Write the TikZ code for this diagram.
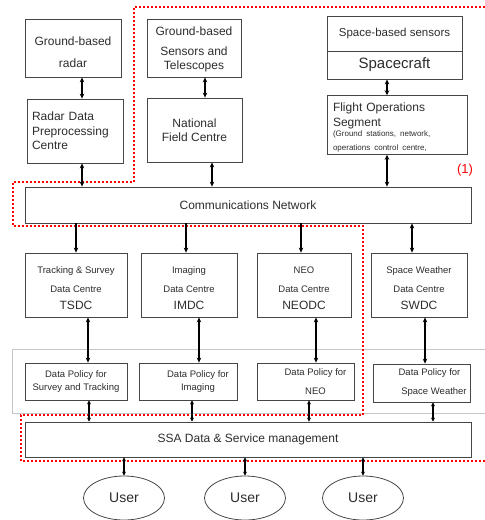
\documentclass[tikz,border=0pt]{standalone}
\usepackage{fontspec}
\setmainfont{Liberation Sans}
\usetikzlibrary{arrows.meta, shapes.geometric}
\definecolor{boxgray}{RGB}{70,70,70}
\definecolor{txtgray}{RGB}{45,45,45}

\begin{document}
\begin{tikzpicture}[x=1pt, y=-1pt,
  every node/.style={font=\fontsize{12}{14.5}\selectfont, text=txtgray},
  box/.style={draw=boxgray, line width=0.8pt, align=center, inner sep=2pt},
  smalltext/.style={font=\fontsize{9.5}{11}\selectfont},
  user/.style={ellipse, draw=boxgray, line width=0.8pt, minimum width=81, minimum height=44, font=\fontsize{14}{16}\selectfont},
  link/.style={{Stealth[length=5pt,width=4.5pt]}-{Stealth[length=5pt,width=4.5pt]}, line width=1.6pt},
  oneway/.style={-{Stealth[length=5pt,width=4.5pt]}, line width=1.6pt},
  thinlink/.style={{Stealth[length=4pt,width=4pt]}-{Stealth[length=4pt,width=4pt]}, line width=1.1pt},
  redline/.style={red, line width=2pt, dash pattern=on 2pt off 2pt}]
\useasboundingbox (0,0) rectangle (485,520);

% outlines
\draw[gray!45, line width=0.8pt] (485,349) -- (12,349) -- (12,413) -- (485,413);
\draw[redline] (485,7) -- (134,7) -- (134,182) -- (13,182) -- (13,226) -- (363,226)
  -- (363,415) -- (21,415) -- (21,461) -- (485,461);

% sensors
\node[box, minimum width=96, minimum height=58] (radar) at (73,48) {\rule{0pt}{17pt}Ground-based\\[7pt]radar};
\node[box, align=left, text width=86, minimum width=96, minimum height=64] (rdpc) at (75,131) {Radar Data\\Preprocessing\\Centre};
\node[box, minimum width=94, minimum height=58] (gbs) at (194,48) {\rule{0pt}{12pt}Ground-based\\[5pt]Sensors and\\Telescopes};
\node[box, minimum width=95, minimum height=64] (nfc) at (194.5,130) {National\\Field Centre};
\node[box, minimum width=135, minimum height=35, font=\fontsize{11.5}{14}\selectfont] (sbs) at (394.5,33.5) {Space-based sensors};
\node[box, minimum width=135, minimum height=28, font=\fontsize{15}{17}\selectfont] (craft) at (394.5,65) {Spacecraft};
\node[box, align=left, text width=128, minimum width=140, minimum height=56] (fos) at (397,125)
  {\rule{0pt}{14pt}Flight Operations\\Segment\par\fontsize{8}{10}\selectfont(Ground stations, network,\\operations control centre,};
\node[red, font=\fontsize{13}{15}\selectfont] (mark1) at (465,170) {(1)};

% network
\node[box, minimum width=446, minimum height=36] (comm) at (248,205) {Communications Network};

% data centres
\node[box, smalltext, minimum width=102, minimum height=64] (tsdc) at (76,285) {\rule{0pt}{13pt}Tracking \& Survey\\[8pt]Data Centre\\[6pt]{\fontsize{12}{12}\selectfont TSDC}};
\node[box, smalltext, minimum width=96, minimum height=64] (imdc) at (189,285) {\rule{0pt}{13pt}Imaging\\[8pt]Data Centre\\[6pt]{\fontsize{12}{12}\selectfont IMDC}};
\node[box, smalltext, minimum width=94, minimum height=64] (neodc) at (304,285) {\rule{0pt}{13pt}NEO\\[8pt]Data Centre\\[6pt]{\fontsize{12}{12}\selectfont NEODC}};
\node[box, smalltext, minimum width=96, minimum height=64] (swdc) at (419,285) {\rule{0pt}{13pt}Space Weather\\[8pt]Data Centre\\[6pt]{\fontsize{12}{12}\selectfont SWDC}};

% data policies
\node[box, smalltext, minimum width=102, minimum height=37] (dpst) at (76,381.5) {Data Policy for\\[2pt]Survey and Tracking};
\node[box, smalltext, minimum width=98, minimum height=37] (dpim) at (188,381.5) {\hspace*{20pt}Data Policy for\\[2pt]\hspace*{20pt}Imaging};
\node[box, smalltext, minimum width=97, minimum height=37] (dpneo) at (305.5,381.5) {\hspace*{20pt}Data Policy for\\[8pt]\hspace*{20pt}NEO};
\node[box, smalltext, minimum width=97, minimum height=38] (dpsw) at (421.5,383) {\hspace*{16pt}Data Policy for\\[8pt]\hspace*{25pt}Space Weather};

\node[box, minimum width=446, minimum height=35] (ssa) at (248,439.5) {SSA Data \& Service management};

\foreach \i/\x in {1/124, 2/245, 3/363}
  \node[user] (user\i) at (\x,498) {User};

% links
\draw[link] ([xshift=9]radar.south) -- ([xshift=9]radar.south |- rdpc.north);
\draw[link] ([xshift=7]rdpc.south) -- ([xshift=7]rdpc.south |- comm.north);
\draw[link] ([xshift=11]gbs.south) -- ([xshift=11]gbs.south |- nfc.north);
\draw[link] ([xshift=17.5]nfc.south) -- ([xshift=17.5]nfc.south |- comm.north);
\draw[link] ([xshift=-7.5]craft.south) -- ([xshift=-7.5]craft.south |- fos.north);
\draw[link] ([xshift=-10]fos.south) -- ([xshift=-10]fos.south |- comm.north);

\draw[oneway] (tsdc.north |- comm.south) -- (tsdc.north);
\draw[oneway] ([xshift=-3]imdc.north |- comm.south) -- ([xshift=-3]imdc.north);
\draw[oneway] ([xshift=-3]neodc.north |- comm.south) -- ([xshift=-3]neodc.north);
\draw[link] ([xshift=-7]swdc.north |- comm.south) -- ([xshift=-7]swdc.north);

\draw[link] ([xshift=12]tsdc.south) -- ([xshift=12]tsdc.south |- dpst.north);
\draw[link] ([xshift=10]imdc.south) -- ([xshift=10]imdc.south |- dpim.north);
\draw[link] ([xshift=12]neodc.south) -- ([xshift=12]neodc.south |- dpneo.north);
\draw[link] ([xshift=6]swdc.south) -- ([xshift=6]swdc.south |- dpsw.north);

\draw[thinlink] ([xshift=13]dpst.south) -- ([xshift=13]dpst.south |- ssa.north);
\draw[thinlink] ([xshift=4]dpim.south) -- ([xshift=4]dpim.south |- ssa.north);
\draw[thinlink] ([xshift=3.5]dpneo.south) -- ([xshift=3.5]dpneo.south |- ssa.north);
\draw[thinlink] ([xshift=11.5]dpsw.south) -- ([xshift=11.5]dpsw.south |- ssa.north);

\foreach \i in {1,2,3}
  \draw[thinlink] (user\i.north |- ssa.south) -- (user\i.north);
\end{tikzpicture}
\end{document}
